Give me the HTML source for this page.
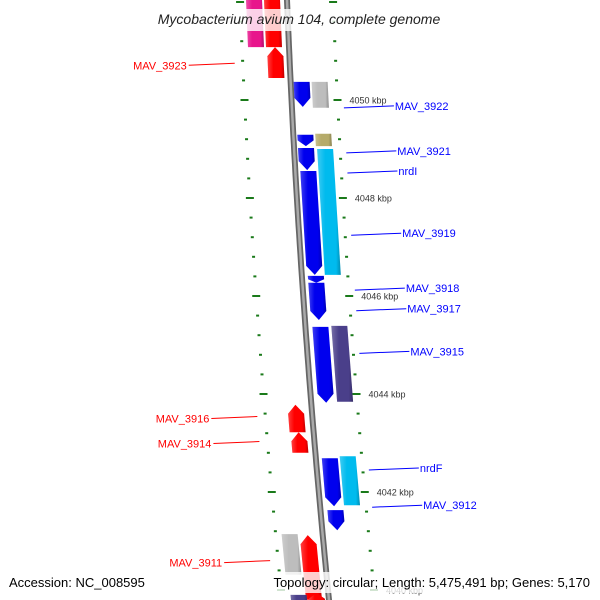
<!DOCTYPE html>
<html><head><meta charset="utf-8"><style>
body{margin:0;background:#fff}
svg{display:block;font-family:"Liberation Sans","DejaVu Sans",sans-serif}
</style></head><body>
<svg id="map" width="600" height="600" viewBox="0 0 600 600" xmlns="http://www.w3.org/2000/svg">
<defs>
<linearGradient id="shade" x1="0" x2="1" y1="0" y2="0">
<stop offset="0" stop-color="#fff" stop-opacity="0.25"/><stop offset="0.35" stop-color="#fff" stop-opacity="0"/><stop offset="0.8" stop-color="#000" stop-opacity="0"/><stop offset="1" stop-color="#000" stop-opacity="0.25"/>
</linearGradient>
</defs>
<g id="ticks"></g>
<g id="backbone"></g>
<g id="genes"></g>
<g id="labels"></g>
<rect x="130" y="9" width="340" height="22" fill="#fff" fill-opacity="0.8"/>
<text x="299" y="24" text-anchor="middle" font-size="14" font-style="italic" fill="#222">Mycobacterium avium 104, complete genome</text>
<rect x="255" y="572" width="345" height="21" fill="#fff" fill-opacity="0.8"/>
<text x="9" y="587" font-size="13" fill="#000">Accession: NC_008595</text>
<text x="590" y="587" text-anchor="end" font-size="13" fill="#000">Topology: circular; Length: 5,475,491 bp; Genes: 5,170</text>
</svg>
<script>
// gene data (kbp positions)
const geneNames=["pink","red1","red2","MAV_3922a","MAV_3922b","MAV_3921a","MAV_3921b","nrdIa","nrdIb","MAV_3919","MAV_3918","MAV_3917","MAV_3915a","MAV_3915b","MAV_3916","MAV_3914","nrdFa","nrdFb","MAV_3912","MAV_3911a","MAV_3911b","bottom1","bottom2"];
const geneStart=[4052.1,4052.1,4051.08,4050.37,4050.37,4049.29,4049.31,4049.02,4049.0,4048.55,4046.41,4046.27,4045.37,4045.39,4043.78,4043.22,4042.69,4042.73,4041.63,4041.14,4041.12,4039.9,4039.94];
const geneEnd=[4051.08,4051.08,4050.45,4049.86,4049.84,4049.06,4049.06,4048.57,4046.43,4046.43,4046.27,4045.51,4043.82,4043.84,4043.22,4042.80,4041.71,4041.73,4041.22,4040.31,4039.8,4039.7,4039.7];
const geneOffset=[-33,-15,-14,11,29,12,30,12,31,13,14,14,15,34,-16,-15,14,32,15,-33,-15,-30,-12];
const geneColor=["#e8158c","#ff0000","#ff0000","#0000ee","#bdbdbd","#0000ee","#b5ab6a","#0000ee","#00bbee","#0000ee","#0000ee","#0000ee","#0000ee","#4a3f8a","#ff0000","#ff0000","#0000ee","#00bbee","#0000ee","#bdbdbd","#ff0000","#4a3f8a","#ff0000"];
const geneDir=["none","none","up","down","none","down","none","down","none","down","down","down","down","none","up","up","down","none","down","none","up","none","up"];
// labels
const leftLabels=["MAV_3923","MAV_3916","MAV_3914","MAV_3911"];
const leftLabelKbp=[4050.75,4043.54,4043.03,4040.6];
const rightLabels=["MAV_3922","MAV_3921","nrdI","MAV_3919","MAV_3918","MAV_3917","MAV_3915","nrdF","MAV_3912"];
const rightLabelKbp=[4049.84,4048.92,4048.51,4047.24,4046.12,4045.7,4044.83,4042.45,4041.69];
const tickLabels=["4050 kbp","4048 kbp","4046 kbp","4044 kbp","4042 kbp","4040 kbp"];
const tickKbp=[4050,4048,4046,4044,4042,4040];

const NS="http://www.w3.org/2000/svg";
function Y(k){return 100+(4050-k)*49;}
function BX(y){return 287+0.04*y+0.00005*y*y;}
function el(tag,attrs,parent){const e=document.createElementNS(NS,tag);for(const k in attrs)e.setAttribute(k,attrs[k]);parent.appendChild(e);return e;}

// backbone
const bb=document.getElementById('backbone');
let pts=[];for(let y=-5;y<=605;y+=10)pts.push(BX(y).toFixed(1)+","+y);
const bo=el('polyline',{points:pts.join(' '),fill:'none',stroke:'#666','stroke-width':6},bb);


const bi=el('polyline',{points:pts.join(' '),fill:'none',stroke:'#aaa','stroke-width':2.5},bb);



// ticks
const tg=document.getElementById('ticks');
for(let i=0;i<=32;i++){
  const k=4052.4-i*0.4;const kr=Math.round(k*10)/10;
  const major=Math.abs(kr-Math.round(kr/2)*2)<0.01;
  const y=Y(kr);const len=major?8:3;
  [-47,46].forEach(o=>{
    const x=BX(y)+o;
    const t=el('line',{x1:x-len/2,y1:y,x2:x+len/2,y2:y,stroke:'#1a7a1a','stroke-width':2},tg);
    
    
  });
}
tickKbp.forEach((k,i)=>{
  const y=Y(k);
  const t=el('text',{x:BX(y)+58,y:y+3.5,'font-size':9,fill:'#333'},tg);
  t.textContent=tickLabels[i];
  
  
});

// genes
const gg=document.getElementById('genes');
geneNames.forEach((n,i)=>{
  const y1=Y(geneStart[i]),y2=Y(geneEnd[i]);const w=16,h=Math.min(9,(y2-y1)*0.5);
  const c1=BX(y1)+geneOffset[i],c2=BX(y2)+geneOffset[i];
  let p;
  if(geneDir[i]==='down'){
    const ym=y2-h,cm=BX(ym)+geneOffset[i];
    p=[[c1-w/2,y1],[c1+w/2,y1],[cm+w/2,ym],[c2,y2],[cm-w/2,ym]];
  }else if(geneDir[i]==='up'){
    const ym=y1+h,cm=BX(ym)+geneOffset[i];
    p=[[c1,y1],[cm+w/2,ym],[c2+w/2,y2],[c2-w/2,y2],[cm-w/2,ym]];
  }else p=[[c1-w/2,y1],[c1+w/2,y1],[c2+w/2,y2],[c2-w/2,y2]];
  const ps=p.map(a=>a[0].toFixed(1)+","+a[1].toFixed(1)).join(' ');
  const g=el('polygon',{points:ps,fill:geneColor[i]},gg);
  
  
  const s=el('polygon',{points:ps,fill:'url(#shade)'},gg);
  
  
});

// labels
const lg=document.getElementById('labels');
leftLabels.forEach((t,i)=>{
  const y=Y(leftLabelKbp[i]);const x2=BX(y)-55;
  const l=el('line',{x1:x2-46,y1:y+2,x2:x2,y2:y,stroke:'#f00','stroke-width':1},lg);
  
  
  const tx=el('text',{x:x2-48,y:y+6,'font-size':11,fill:'#f00','text-anchor':'end'},lg);
  tx.textContent=t;
  
  
});
rightLabels.forEach((t,i)=>{
  const y=Y(rightLabelKbp[i]);const x1=BX(y)+52;
  const l=el('line',{x1:x1,y1:y,x2:x1+50,y2:y-2,stroke:'#00f','stroke-width':1},lg);
  
  
  const tx=el('text',{x:x1+51,y:y+2,'font-size':11,fill:'#00f'},lg);
  tx.textContent=t;
  
  
});
</script>
</body></html>
